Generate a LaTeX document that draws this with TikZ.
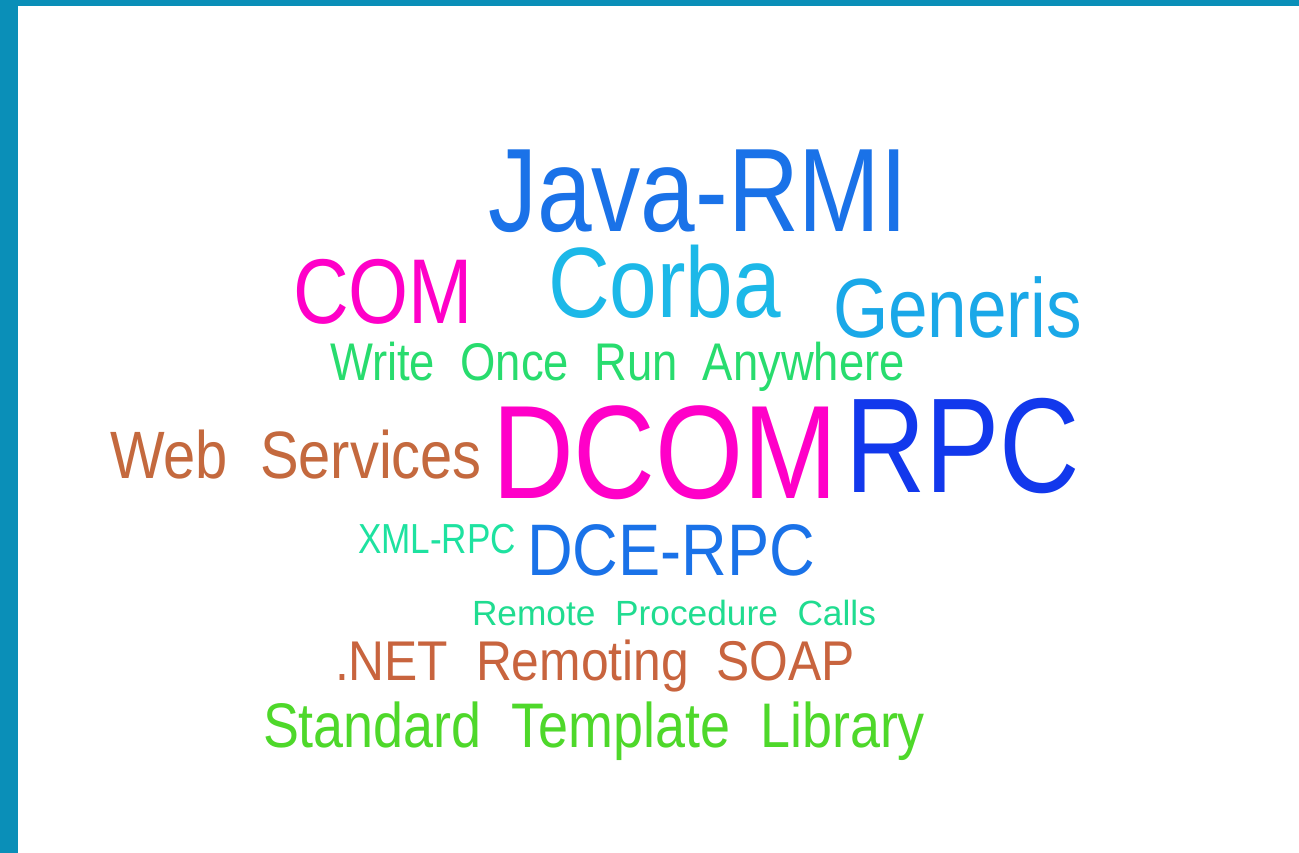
\documentclass[tikz,border=0pt]{standalone}
\usepackage{fontspec}
\usepackage{graphicx}
\setmainfont{Liberation Sans}
\definecolor{frame}{HTML}{0A8FB8}
\definecolor{cJava}{HTML}{1A72E8}
\definecolor{cMag}{HTML}{FF00C8}
\definecolor{cCorba}{HTML}{1CB8E8}
\definecolor{cGen}{HTML}{1AA8E8}
\definecolor{cWrite}{HTML}{28DC6E}
\definecolor{cWeb}{HTML}{C4693E}
\definecolor{cRPC}{HTML}{1238EC}
\definecolor{cXML}{HTML}{1EE2A0}
\definecolor{cRemote}{HTML}{20DC90}
\definecolor{cNet}{HTML}{C8643E}
\definecolor{cSTL}{HTML}{4ED82A}
% width, font size, text
\newcommand\cloudword[3]{\fontsize{#2pt}{#2pt}\selectfont\resizebox{#1pt}{\height}{#3}}
\tikzset{word/.style={inner sep=0pt, outer sep=0pt, anchor=base west}}
\begin{document}
\begin{tikzpicture}[x=1pt,y=-1pt]
\useasboundingbox (0,0) rectangle (1299,853);
\fill[frame] (0,0) rectangle (1299,853);
\fill[white] (18,6) rectangle (1299,853);
\node[word, text=cJava] (java) at (488,232) {\cloudword{420}{118.7}{Java-RMI}};
\node[word, text=cMag] (com) at (293,323) {\cloudword{180}{92}{COM}};
\node[word, text=cCorba] (corba) at (548,317) {\cloudword{233}{100}{Corba}};
\node[word, text=cGen] (generis) at (833,337) {\cloudword{249}{84}{Generis}};
\node[word, text=cWrite] (write) at (330,380) {\cloudword{575}{53}{Write~~Once~~Run~~Anywhere}};
\node[word, text=cWeb] (web) at (110,478) {\cloudword{372}{67}{Web~~Services}};
\node[word, text=cMag] (dcom) at (492,498) {\cloudword{346}{133}{DCOM}};
\node[word, text=cRPC] (rpc) at (845,492) {\cloudword{235}{135}{RPC}};
\node[word, text=cXML] (xml) at (358,553) {\cloudword{158}{42}{XML-RPC}};
\node[word, text=cJava] (dce) at (527,575) {\cloudword{288}{73}{DCE-RPC}};
\node[word, text=cRemote] (remote) at (472,625) {\cloudword{404}{35}{Remote~~Procedure~~Calls}};
\node[word, text=cNet] (net) at (335,680) {\cloudword{520}{56}{.NET~~Remoting~~SOAP}};
\node[word, text=cSTL] (stl) at (263,747) {\cloudword{662}{63}{Standard~~Template~~Library}};
\end{tikzpicture}
\end{document}
